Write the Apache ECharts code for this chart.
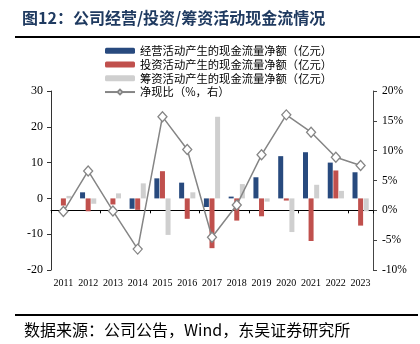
<!DOCTYPE html>
<html><head><meta charset="utf-8">
<script src="https://cdn.jsdelivr.net/npm/echarts@6/dist/echarts.min.js"></script>
<style>html,body{margin:0;padding:0;background:#fff}#c{width:420px;height:344px}</style>
</head><body><div id="c"></div>
<script>
const years = ['2011','2012','2013','2014','2015','2016','2017','2018','2019','2020','2021','2022','2023'];
const operating = [0, 1.7, 0, -2.9, 5.6, 4.4, -2.4, 0.5, 5.9, 11.8, 12.9, 10.0, 7.3];
const investing = [-2.0, -3.6, -1.7, -3.2, 7.6, -5.7, -13.9, -6.2, -5.0, -0.6, -11.9, 7.8, -7.6];
const financing = [0.7, -1.5, 1.4, 4.2, -10.2, 1.7, 22.8, 4.0, -0.9, -9.4, 3.8, 2.1, -3.6];
const netRatio = [-0.2, 6.6, -0.1, -6.5, 15.7, 10.2, -4.5, 0.9, 9.3, 16.0, 13.1, 8.9, 7.5];
const leftTicks = {min: -20, max: 30, interval: 10};
const rightTicks = {min: -10, max: 20, interval: 5};
const names = ['经营活动产生的现金流量净额（亿元）','投资活动产生的现金流量净额（亿元）','筹资活动产生的现金流量净额（亿元）','净现比（%，右）'];

const cjk = '"Noto Sans CJK SC", sans-serif';
const serif = '"Liberation Serif", "Times New Roman", serif';
const chart = echarts.init(document.getElementById('c'), null, {renderer: 'canvas'});
const bar = (name, data, color) => ({
  name, type: 'bar', data, xAxisIndex: 0, yAxisIndex: 0,
  barWidth: 5, barGap: '12%', itemStyle: {color}, z: 2
});
chart.setOption({
  animation: false,
  grid: {left: 51, right: 47, top: 91, bottom: 74, containLabel: false},
  legend: {
    orient: 'vertical', left: 104, top: 45, padding: 0,
    itemWidth: 30, itemHeight: 6, itemGap: 2.5,
    textStyle: {fontSize: 11.3, fontFamily: cjk, color: '#000'},
    data: names
  },
  xAxis: [
    {type: 'category', data: years, position: 'bottom',
     axisLine: {show: false}, axisTick: {show: false}, splitLine: {show: false},
     axisLabel: {fontSize: 10, fontFamily: serif, color: '#000', margin: 8, interval: 0}},
    {type: 'category', data: years, position: 'bottom',
     axisLine: {show: true, onZero: true, lineStyle: {color: '#000', width: 1}},
     axisTick: {show: true, length: 3, lineStyle: {color: '#000'}},
     axisLabel: {show: false}, splitLine: {show: false}}
  ],
  yAxis: [
    {type: 'value', position: 'left', min: leftTicks.min, max: leftTicks.max, interval: leftTicks.interval,
     axisLine: {show: true, onZero: false, lineStyle: {color: '#333'}},
     axisTick: {show: true, length: 4, lineStyle: {color: '#333'}},
     splitLine: {show: false},
     axisLabel: {fontSize: 12, fontFamily: serif, color: '#000', margin: 8}},
    {type: 'value', position: 'right', min: rightTicks.min, max: rightTicks.max, interval: rightTicks.interval,
     axisLine: {show: true, onZero: false, lineStyle: {color: '#444'}},
     axisTick: {show: true, length: 4, lineStyle: {color: '#444'}},
     splitLine: {show: false},
     axisLabel: {fontSize: 11.5, fontFamily: serif, color: '#000', margin: 9, formatter: '{value}%'}}
  ],
  series: [
    bar(names[0], operating, '#284a7e'),
    bar(names[1], investing, '#c0504d'),
    bar(names[2], financing, '#cfcfcf'),
    {name: names[3], type: 'line', data: netRatio, xAxisIndex: 0, yAxisIndex: 1,
     symbol: 'diamond', symbolSize: [9, 10], showAllSymbol: true,
     lineStyle: {color: '#858585', width: 1.5},
     itemStyle: {color: '#fff', borderColor: '#858585', borderWidth: 1.3}, z: 5}
  ],
  graphic: [
    {type: 'text', left: 22, top: 10, style: {text: '图12：公司经营/投资/筹资活动现金流情况', font: 'bold 16px ' + cjk, fill: '#1f3a60'}},
    {type: 'line', shape: {x1: 15, y1: 37, x2: 420, y2: 37}, style: {stroke: '#000', lineWidth: 2}},
    {type: 'line', shape: {x1: 15, y1: 315, x2: 418, y2: 315}, style: {stroke: '#000', lineWidth: 2}},
    {type: 'text', left: 24, top: 322, style: {text: '数据来源：公司公告，Wind，东吴证券研究所', font: '16px ' + cjk, fill: '#000'}}
  ]
});
</script></body></html>
